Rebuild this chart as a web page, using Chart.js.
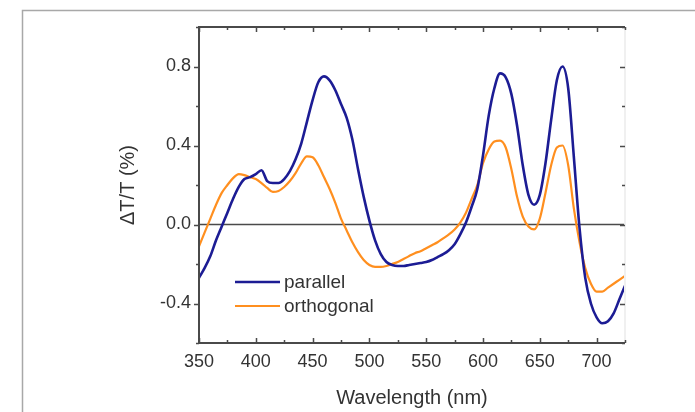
<!DOCTYPE html>
<html>
<head>
<meta charset="utf-8">
<script src="https://cdn.jsdelivr.net/npm/chart.js@4.4.1/dist/chart.umd.min.js"></script>
<style>
  html, body { margin: 0; padding: 0; background: #fff; }
  #wrap { width: 695px; height: 412px; position: relative; }
</style>
</head>
<body>
<div id="wrap"><canvas id="spectrum"></canvas></div>
<script>
// wavelength grid (nm)
let wavelengths = [350,355,360,365,370,375,380,385,390,395,400,405,410,415,420,425,430,435,440,445,
    450,455,460,465,470,475,480,485,490,495,500,505,510,515,520,525,530,535,540,545,
    550,555,560,565,570,575,580,585,590,595,600,605,610,615,620,625,630,635,640,645,
    650,655,660,665,670,675,680,685,690,695,700,705,710,715,720,725];

// dT/T (%) for parallel polarisation
let parallelVals = [-0.27,-0.22,-0.16,-0.08,-0.01,0.06,0.13,0.19,0.23,0.24,0.255,0.275,0.22,0.21,0.21,0.23,0.27,0.33,0.41,0.52,
    0.63,0.72,0.75,0.73,0.68,0.61,0.54,0.43,0.28,0.14,0.02,-0.08,-0.15,-0.19,-0.205,-0.21,-0.21,-0.205,-0.2,-0.195,
    -0.19,-0.18,-0.165,-0.15,-0.13,-0.1,-0.05,0.01,0.09,0.18,0.35,0.55,0.69,0.765,0.745,0.66,0.5,0.3,0.15,0.1,
    0.15,0.31,0.53,0.73,0.8,0.69,0.34,-0.02,-0.27,-0.4,-0.47,-0.5,-0.49,-0.45,-0.38,-0.31];

// dT/T (%) for orthogonal polarisation
let orthogonalVals = [-0.11,-0.04,0.03,0.1,0.16,0.2,0.235,0.255,0.25,0.24,0.23,0.21,0.185,0.165,0.17,0.19,0.22,0.26,0.31,0.345,
    0.34,0.3,0.24,0.18,0.11,0.03,-0.03,-0.09,-0.14,-0.18,-0.205,-0.215,-0.215,-0.21,-0.2,-0.19,-0.175,-0.16,-0.145,-0.135,
    -0.12,-0.105,-0.09,-0.07,-0.05,-0.025,0.01,0.06,0.13,0.2,0.31,0.38,0.42,0.425,0.39,0.28,0.14,0.04,-0.01,-0.025,
    0.03,0.16,0.3,0.39,0.4,0.3,0.08,-0.09,-0.22,-0.3,-0.34,-0.34,-0.32,-0.3,-0.28,-0.26];

let seriesNames = ['parallel', 'orthogonal'];
let seriesColors = ['#1c1c94', '#ff8f1f'];

let xTicks = [350,400,450,500,550,600,650,700];
let xMinor = [375,425,475,525,575,625,675,725];
let yTicks = [-0.4,0.0,0.4,0.8];
let yMinor = [-0.6,-0.2,0.2,0.6,1.0];

const FONT = '"Liberation Sans", Arial, sans-serif';

function toPoints(vals){
    return vals.map(function(v, i){ return {x: wavelengths[i], y: v}; });
}

// outer frame, axis box, tick marks, zero line and legend
let decor = {
    id: 'decor',
    beforeDraw: function(chart){
        let c = chart.ctx;
        c.save();
        c.strokeStyle = '#a8a8a8';
        c.lineWidth = 1.5;
        c.beginPath();
        c.moveTo(22.5, 412);
        c.lineTo(22.5, 10.5);
        c.lineTo(695, 10.5);
        c.stroke();
        c.restore();
    },
    beforeDatasetsDraw: function(chart){
        let c = chart.ctx, a = chart.chartArea;
        let ys = chart.scales.y;
        c.save();
        // zero line
        c.strokeStyle = '#4a4a4a';
        c.lineWidth = 1.5;
        let y0 = ys.getPixelForValue(0);
        c.beginPath();
        c.moveTo(a.left, y0);
        c.lineTo(a.right, y0);
        c.stroke();
        c.restore();
    },
    afterDatasetsDraw: function(chart){
        let c = chart.ctx, a = chart.chartArea;
        let xs = chart.scales.x, ys = chart.scales.y;
        c.save();
        c.strokeStyle = '#f0f0f0';
        c.lineWidth = 2;
        c.beginPath();
        c.moveTo(a.right, a.top);
        c.lineTo(a.right, a.bottom);
        c.stroke();

        c.strokeStyle = '#4a4a4a';
        c.lineWidth = 2;
        c.beginPath();
        c.moveTo(a.right, a.top);
        c.lineTo(a.left, a.top);
        c.lineTo(a.left, a.bottom);
        c.lineTo(a.right, a.bottom);
        c.stroke();

        c.lineWidth = 1.5;
        c.beginPath();
        xTicks.concat(xMinor).forEach(function(t){
            let len = xTicks.indexOf(t) >= 0 ? 5 : 3;
            let px = Math.round(xs.getPixelForValue(t)) + 0.5;
            c.moveTo(px, a.bottom);
            c.lineTo(px, a.bottom - len);
            c.moveTo(px, a.top);
            c.lineTo(px, a.top + len);
        });
        yTicks.concat(yMinor).forEach(function(t){
            let len = yTicks.indexOf(t) >= 0 ? 5 : 3;
            let py = Math.round(ys.getPixelForValue(t)) + 0.5;
            c.moveTo(a.left, py);
            c.lineTo(a.left - len, py);
            c.moveTo(a.right, py);
            c.lineTo(a.right - len, py);
        });
        c.stroke();

        // legend
        c.font = '19px ' + FONT;
        c.textBaseline = 'middle';
        let lx = 235, ly = 282;
        chart.data.datasets.forEach(function(ds, i){
            let yy = ly + i * 24;
            c.strokeStyle = ds.borderColor;
            c.lineWidth = ds.borderWidth;
            c.beginPath();
            c.moveTo(lx, yy);
            c.lineTo(lx + 45, yy);
            c.stroke();
            c.fillStyle = '#333';
            c.fillText(ds.label, lx + 49, yy + 1);
        });
        c.restore();
    }
};

let chart = new Chart(document.getElementById('spectrum'), {
    type: 'line',
    data: {
        datasets: [{
            label: seriesNames[0],
            data: toPoints(parallelVals),
            borderColor: seriesColors[0],
            borderWidth: 2.6,
            pointRadius: 0,
            cubicInterpolationMode: 'monotone'
        }, {
            label: seriesNames[1],
            data: toPoints(orthogonalVals),
            borderColor: seriesColors[1],
            borderWidth: 2.2,
            pointRadius: 0,
            cubicInterpolationMode: 'monotone'
        }]
    },
    options: {
        responsive: true,
        maintainAspectRatio: false,
        animation: false,
        layout: { padding: { left: 112, top: 27, right: 70, bottom: 1 } },
        plugins: { legend: { display: false }, tooltip: { enabled: false } },
        scales: {
            x: {
                type: 'linear',
                min: 350,
                max: 725,
                afterBuildTicks: function(s){ s.ticks = xTicks.map(function(v){ return {value: v}; }); },
                afterFit: function(s){ s.height = 68; },
                grid: { display: false, drawTicks: false },
                border: { display: false },
                ticks: {
                    padding: 8,
                    color: '#333',
                    font: { family: FONT, size: 18 }
                },
                title: {
                    display: true,
                    text: 'Wavelength (nm)',
                    color: '#333',
                    padding: { top: 1, bottom: 1 },
                    font: { family: FONT, size: 20 }
                }
            },
            y: {
                type: 'linear',
                min: -0.6,
                max: 1.0,
                afterBuildTicks: function(s){ s.ticks = yTicks.map(function(v){ return {value: v}; }); },
                afterFit: function(s){ s.width = 87; },
                grid: { display: false, drawTicks: false },
                border: { display: false },
                ticks: {
                    padding: 8,
                    color: '#333',
                    font: { family: FONT, size: 18 },
                    callback: function(v){ return v.toFixed(1); }
                },
                title: {
                    display: true,
                    text: 'ΔT/T (%)',
                    color: '#333',
                    padding: { top: 4, bottom: 4 },
                    font: { family: FONT, size: 20 }
                }
            }
        }
    },
    plugins: [decor]
});
</script>
</body>
</html>
